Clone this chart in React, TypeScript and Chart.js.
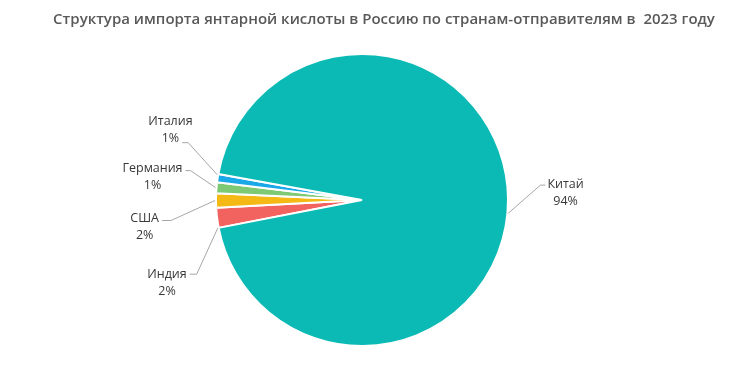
import React, { useEffect, useRef } from "react";
import { Chart, registerables } from "chart.js";

Chart.register(...registerables);

const TITLE = "Структура импорта янтарной кислоты в Россию по странам-отправителям в  2023 году";
const countries = ["Индия", "США", "Германия", "Италия", "Китай"];
const shares = [2.2, 1.6, 1.2, 0.9, 94.1];
const percentLabels = ["2%", "2%", "1%", "1%", "94%"];
const colors = ["#F2635F", "#F4B914", "#7EC974", "#1AA8E8", "#0BBAB5"];

// leader-line layout: start-angle shift (deg), elbow offset, horizontal tail, anchor row
const leaderLayout = [
  { shift: -4, dx: -21, dy: 46, tail: 7, side: "left", row: 0, rowDy: 0 },
  { shift: 0, dx: -44, dy: 20, tail: 9, side: "left", row: 0, rowDy: -2 },
  { shift: 0, dx: -25, dy: -17, tail: 5, side: "left", row: 0, rowDy: -2 },
  { shift: 1.3, dx: -29, dy: -32, tail: 6, side: "left", row: 1, rowDy: -4 },
  { shift: 5.5, dx: 32, dy: -28, tail: 5, side: "right", row: 0, rowDy: -1 },
];

const LINE_GAP = 17;

const labelPlugin = {
  id: "leaderLabels",
  afterDatasetsDraw(chart: any) {
    const ctx = chart.ctx;
    const meta = chart.getDatasetMeta(0);
    ctx.save();
    meta.data.forEach((arc: any, i: number) => {
      const { x, y, startAngle, endAngle, outerRadius } = arc.getProps(
        ["x", "y", "startAngle", "endAngle", "outerRadius"],
        true
      );
      const lay = leaderLayout[i];
      const a = (startAngle + endAngle) / 2 + (lay.shift * Math.PI) / 180;
      const sx = x + Math.cos(a) * (outerRadius + 1);
      const sy = y + Math.sin(a) * (outerRadius + 1);
      const ex = sx + lay.dx;
      const ey = sy + lay.dy;
      const dir = lay.side === "left" ? -1 : 1;
      const hx = ex + dir * lay.tail;
      ctx.strokeStyle = "#A6A6A6";
      ctx.lineWidth = 1;
      ctx.beginPath();
      ctx.moveTo(sx, sy);
      ctx.lineTo(ex, ey);
      ctx.lineTo(hx, ey);
      ctx.stroke();
      ctx.font = "12.5px 'Open Sans'";
      ctx.fillStyle = "#383838";
      ctx.textBaseline = "middle";
      ctx.textAlign = "center";
      const rows = [countries[i], percentLabels[i]];
      const wAnchor = ctx.measureText(rows[lay.row]).width;
      const cx = lay.side === "left" ? hx - 3 - wAnchor / 2 : hx + 2 + wAnchor / 2;
      const anchorY = ey + lay.rowDy;
      const firstY = anchorY - lay.row * LINE_GAP;
      ctx.fillText(rows[0], cx, firstY);
      ctx.fillText(rows[1], cx, firstY + LINE_GAP);
    });
    ctx.restore();
  },
};

const titlePlugin = {
  id: "customTitle",
  afterDraw(chart: any) {
    const ctx = chart.ctx;
    ctx.save();
    ctx.font = "600 15px 'Open Sans'";
    ctx.fillStyle = "#595959";
    ctx.textAlign = "center";
    ctx.textBaseline = "middle";
    ctx.fillText(TITLE, 384, 20);
    ctx.restore();
  },
};

export default function App() {
  const ref = useRef<HTMLCanvasElement>(null);
  useEffect(() => {
    document.body.style.margin = "0";
    const chart = new Chart(ref.current!, {
      type: "pie",
      data: {
        labels: countries,
        datasets: [
          {
            data: shares,
            backgroundColor: colors,
            borderColor: "#FFFFFF",
            borderWidth: 2,
          },
        ],
      },
      options: {
        animation: false,
        responsive: false,
        rotation: 259,
        layout: { padding: { top: 53, bottom: 22, left: 215, right: 241 } },
        plugins: {
          legend: { display: false },
          tooltip: { enabled: false },
          title: { display: false },
        },
      },
      plugins: [labelPlugin, titlePlugin],
    });
    return () => chart.destroy();
  }, []);
  return (
    <div style={{ width: 750, height: 369, background: "#fff" }}>
      <canvas ref={ref} width={750} height={369} />
    </div>
  );
}
